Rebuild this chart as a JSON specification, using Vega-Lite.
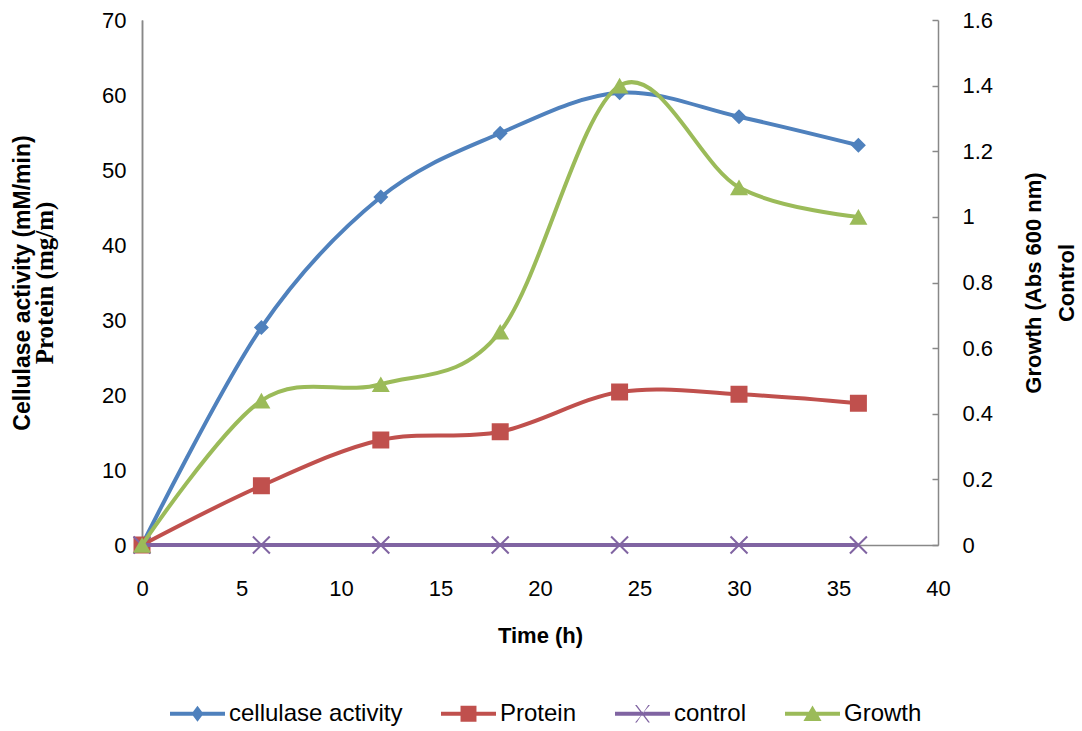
{
  "$schema": "https://vega.github.io/schema/vega-lite/v6.json",
  "width": 796,
  "height": 525,
  "autosize": {"type": "none"},
  "padding": {"left": 142, "top": 20, "right": 144, "bottom": 186},
  "background": "white",
  "config": {
    "view": {"stroke": null},
    "font": "Liberation Sans",
    "axis": {
      "grid": false,
      "domainColor": "#888888",
      "domainWidth": 1.5,
      "tickColor": "#888888",
      "tickWidth": 1.5,
      "labelFont": "Liberation Sans",
      "labelFontSize": 22,
      "labelColor": "#000000",
      "titleFont": "Liberation Sans",
      "titleFontSize": 22,
      "titleFontWeight": "bold",
      "titleColor": "#000000"
    }
  },
  "data": {
    "values": [
      {"series": "cellulase activity", "time": 0, "value": 0},
      {"series": "cellulase activity", "time": 6, "value": 29},
      {"series": "cellulase activity", "time": 12, "value": 46.4},
      {"series": "cellulase activity", "time": 18, "value": 54.9},
      {"series": "cellulase activity", "time": 24, "value": 60.3},
      {"series": "cellulase activity", "time": 30, "value": 57.1},
      {"series": "cellulase activity", "time": 36, "value": 53.3},
      {"series": "Protein", "time": 0, "value": 0},
      {"series": "Protein", "time": 6, "value": 7.9},
      {"series": "Protein", "time": 12, "value": 14},
      {"series": "Protein", "time": 18, "value": 15.1},
      {"series": "Protein", "time": 24, "value": 20.4},
      {"series": "Protein", "time": 30, "value": 20.1},
      {"series": "Protein", "time": 36, "value": 18.9},
      {"series": "control", "time": 0, "value": 0},
      {"series": "control", "time": 6, "value": 0},
      {"series": "control", "time": 12, "value": 0},
      {"series": "control", "time": 18, "value": 0},
      {"series": "control", "time": 24, "value": 0},
      {"series": "control", "time": 30, "value": 0},
      {"series": "control", "time": 36, "value": 0},
      {"series": "Growth", "time": 0, "value": 0},
      {"series": "Growth", "time": 6, "value": 0.44},
      {"series": "Growth", "time": 12, "value": 0.49},
      {"series": "Growth", "time": 18, "value": 0.65},
      {"series": "Growth", "time": 24, "value": 1.4},
      {"series": "Growth", "time": 30, "value": 1.09},
      {"series": "Growth", "time": 36, "value": 1.0}
    ]
  },
  "encoding": {
    "x": {
      "field": "time",
      "type": "quantitative",
      "scale": {"domain": [0, 40], "nice": false, "zero": false},
      "axis": {
        "title": "Time (h)",
        "values": [0, 5, 10, 15, 20, 25, 30, 35, 40],
        "ticks": false,
        "labelPadding": 33,
        "titlePadding": 26,
        "labelFlush": false
      }
    },
    "color": {
      "field": "series",
      "type": "nominal",
      "scale": {
        "domain": ["cellulase activity", "Protein", "control", "Growth"],
        "range": ["#4F81BD", "#C0504D", "#8064A2", "#9BBB59"]
      },
      "legend": {
        "title": null,
        "orient": "none",
        "direction": "horizontal",
        "legendX": 28,
        "legendY": 666,
        "symbolSize": 3025,
        "labelFont": "Liberation Sans",
        "labelFontSize": 24,
        "labelColor": "#000000",
        "labelOffset": 4,
        "columnPadding": 38,
        "labelLimit": 400,
        "encode": {
          "symbols": {
            "update": {
              "shape": {"signal": "datum.value === 'cellulase activity' ? 'M-1,-0.073H1V0.073H-1Z M0,-0.29L0.218,0L0,0.29L-0.218,0Z' : datum.value === 'Protein' ? 'M-1,-0.073H1V0.073H-1Z M-0.29,-0.29H0.29V0.29H-0.29Z' : datum.value === 'control' ? 'M-1,-0.073H1V0.073H-1Z M-0.27,-0.32L-0.21,-0.32L0.27,0.32L0.21,0.32Z M0.27,-0.32L0.21,-0.32L-0.21,0.32L-0.27,0.32Z' : 'M-1,-0.073H1V0.073H-1Z M0,-0.3L0.33,0.26H-0.33Z'"},
              "fill": {"signal": "scale('color', datum.value)"},
              "fillOpacity": {"value": 1},
              "strokeWidth": {"value": 0},
              "opacity": {"value": 1},
              "size": {"value": 3025}
            }
          }
        }
      }
    }
  },
  "layer": [
    {
      "transform": [{"filter": "datum.series === 'cellulase activity'"}],
      "encoding": {
        "y": {
          "field": "value",
          "type": "quantitative",
          "scale": {"domain": [0, 70], "nice": false},
          "axis": {
            "orient": "left",
            "title": "Cellulase activity (mM/min)",
            "titleFontSize": 23,
            "labels": false,
            "ticks": false,
            "domain": true,
            "titlePadding": 108
          }
        }
      },
      "layer": [
        {"mark": {"type": "line", "interpolate": "cardinal", "strokeWidth": 4}},
        {"mark": {"type": "point", "shape": "diamond", "size": 225, "filled": true, "opacity": 1}}
      ]
    },
    {
      "transform": [{"filter": "datum.series === 'Protein'"}],
      "encoding": {
        "y": {
          "field": "value",
          "type": "quantitative",
          "scale": {"domain": [0, 70], "nice": false},
          "axis": {
            "orient": "left",
            "title": "Protein (mg/m)",
            "titleFont": "Liberation Serif",
            "titleFontSize": 25,
            "values": [0, 10, 20, 30, 40, 50, 60, 70],
            "ticks": false,
            "domain": true,
            "labelPadding": 16,
            "titlePadding": 44
          }
        }
      },
      "layer": [
        {"mark": {"type": "line", "interpolate": "cardinal", "strokeWidth": 4}},
        {"mark": {"type": "point", "shape": "square", "size": 289, "filled": true, "opacity": 1}}
      ]
    },
    {
      "encoding": {
        "y": {
          "field": "value",
          "type": "quantitative",
          "scale": {"domain": [0, 1.6], "nice": false},
          "axis": {
            "orient": "right",
            "title": ["Growth (Abs 600 nm)", "Control"],
            "titleAngle": -90,
            "titleBaseline": "top",
            "titleLineHeight": 33,
            "values": [0, 0.2, 0.4, 0.6, 0.8, 1, 1.2, 1.4, 1.6],
            "format": "~g",
            "tickSize": -6,
            "labelPadding": 30,
            "titlePadding": -2
          }
        }
      },
      "layer": [
        {
          "transform": [{"filter": "datum.series === 'control'"}],
          "layer": [
            {"mark": {"type": "line", "strokeWidth": 4}},
            {"mark": {"type": "point", "shape": "M-1,-1L1,1M1,-1L-1,1", "size": 289, "filled": false, "strokeWidth": 2, "opacity": 1}}
          ]
        },
        {
          "transform": [{"filter": "datum.series === 'Growth'"}],
          "layer": [
            {"mark": {"type": "line", "interpolate": "cardinal", "strokeWidth": 4}},
            {"mark": {"type": "point", "shape": "triangle-up", "size": 324, "filled": true, "opacity": 1}}
          ]
        }
      ]
    }
  ],
  "resolve": {"scale": {"y": "independent"}}
}
